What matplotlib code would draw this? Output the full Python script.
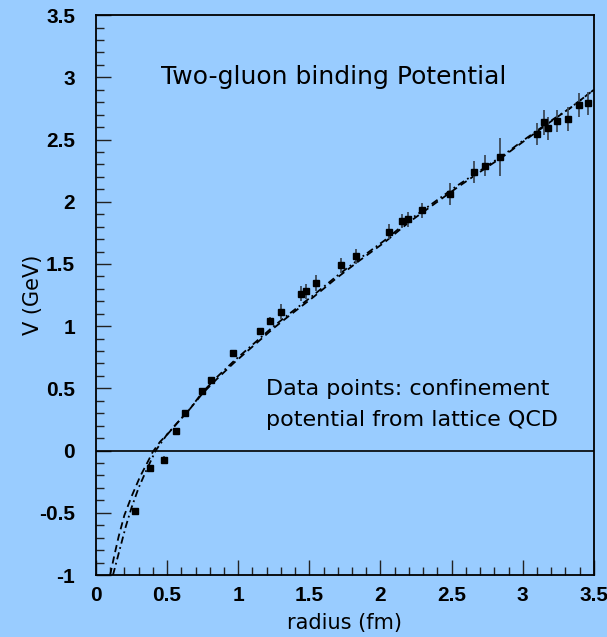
import matplotlib
matplotlib.use('Agg')
import matplotlib.pyplot as plt
from matplotlib.ticker import MultipleLocator, FormatStrFormatter

# lattice QCD points (radius in fm, V in GeV, error)
r_pts = [0.272, 0.379, 0.476, 0.564, 0.628, 0.747, 0.81, 0.965, 1.15, 1.225,
         1.30, 1.44, 1.474, 1.55, 1.72, 1.83, 2.057, 2.15, 2.195, 2.29,
         2.49, 2.656, 2.734, 2.84, 3.10, 3.15, 3.18, 3.24, 3.317, 3.396, 3.457]
v_pts = [-0.483, -0.142, -0.073, 0.155, 0.30, 0.479, 0.568, 0.782, 0.959, 1.044,
         1.117, 1.26, 1.28, 1.35, 1.49, 1.56, 1.76, 1.845, 1.86, 1.93,
         2.06, 2.24, 2.29, 2.36, 2.545, 2.64, 2.59, 2.65, 2.665, 2.776, 2.79]
v_err = [0.02, 0.02, 0.03, 0.02, 0.02, 0.02, 0.02, 0.03, 0.03, 0.03,
         0.06, 0.06, 0.06, 0.065, 0.06, 0.06, 0.06, 0.06, 0.06, 0.06,
         0.09, 0.09, 0.085, 0.15, 0.09, 0.10, 0.095, 0.09, 0.095, 0.095, 0.09]

# dash-dot curve
r_dd = [0.12, 0.15, 0.18, 0.21, 0.25, 0.30, 0.35, 0.42, 0.50, 0.57, 0.65, 0.75,
        0.85, 0.97, 1.10, 1.25, 1.36, 1.53, 1.69, 1.85, 2.03, 2.20, 2.37, 2.54,
        2.70, 2.87, 3.00, 3.21, 3.33, 3.50]
v_dd = [-1.00, -0.87, -0.74, -0.61, -0.46, -0.30, -0.17, 0.00, 0.13, 0.22, 0.32, 0.47,
        0.59, 0.72, 0.85, 1.00, 1.10, 1.25, 1.40, 1.54, 1.69, 1.85, 1.99, 2.13,
        2.25, 2.38, 2.49, 2.66, 2.75, 2.90]

# dashed curve
r_da = [0.10, 0.13, 0.16, 0.20, 0.25, 0.31, 0.36, 0.40, 0.45, 0.51, 0.57, 0.65,
        0.75, 0.85, 0.97, 1.10, 1.25, 1.36, 1.53, 1.69, 1.85, 2.03, 2.20, 2.37,
        2.54, 2.70, 2.87, 3.00, 3.21, 3.33, 3.50]
v_da = [-1.00, -0.84, -0.69, -0.52, -0.37, -0.21, -0.10, -0.01, 0.07, 0.14, 0.22, 0.32,
        0.46, 0.575, 0.705, 0.835, 0.985, 1.085, 1.235, 1.385, 1.525, 1.675, 1.835, 1.975,
        2.115, 2.24, 2.37, 2.48, 2.655, 2.75, 2.90]

bg = '#99ccff'
plt.rcParams['axes.unicode_minus'] = False
plt.rcParams['font.family'] = 'Liberation Sans'
plt.rcParams['font.weight'] = 'bold'

fig = plt.figure(figsize=(6.07, 6.37), dpi=100, facecolor=bg)
ax = fig.add_axes([0.158, 0.0973, 0.8204, 0.879], facecolor=bg)

ax.axhline(0, color='black', lw=1.2)
ax.plot(r_da, v_da, color='black', lw=1.3, linestyle=(0, (4, 2.5)))
ax.plot(r_dd, v_dd, color='black', lw=1.3, linestyle=(0, (4, 2, 1, 2)))
ax.errorbar(r_pts, v_pts, yerr=v_err, fmt='none', ecolor='#3c4a58', elinewidth=1.3)
ax.plot(r_pts, v_pts, 's', color='black', markersize=4.5)

ax.set_xlim(0, 3.5)
ax.set_ylim(-1, 3.5)
ax.xaxis.set_major_locator(MultipleLocator(0.5))
ax.xaxis.set_minor_locator(MultipleLocator(0.1))
ax.yaxis.set_major_locator(MultipleLocator(0.5))
ax.yaxis.set_minor_locator(MultipleLocator(0.1))
ax.xaxis.set_major_formatter(FormatStrFormatter('%g'))
ax.yaxis.set_major_formatter(FormatStrFormatter('%g'))
ax.tick_params(which='both', direction='in', top=False, right=False, color='#222222', width=1)
ax.tick_params(which='major', length=11, labelsize=15)
ax.tick_params(which='minor', length=6)
ax.tick_params(axis='x', which='major', pad=8)
ax.tick_params(axis='y', which='major', pad=15)
for sp in ax.spines.values():
    sp.set_linewidth(1.3)

txt = dict(family='DejaVu Sans', fontweight='normal')
ax.set_xlabel('radius (fm)', fontsize=15, labelpad=6, **txt)
ax.set_ylabel('V (GeV)', fontsize=15, labelpad=-3, **txt)

ax.text(0.46, 2.95, 'Two-gluon binding Potential', fontsize=18, va='baseline', **txt)
ax.text(1.195, 0.447, 'Data points: confinement', fontsize=16, va='baseline', **txt)
ax.text(1.195, 0.196, 'potential from lattice QCD', fontsize=16, va='baseline', **txt)

fig.savefig('out.png', dpi=100, facecolor=bg)
